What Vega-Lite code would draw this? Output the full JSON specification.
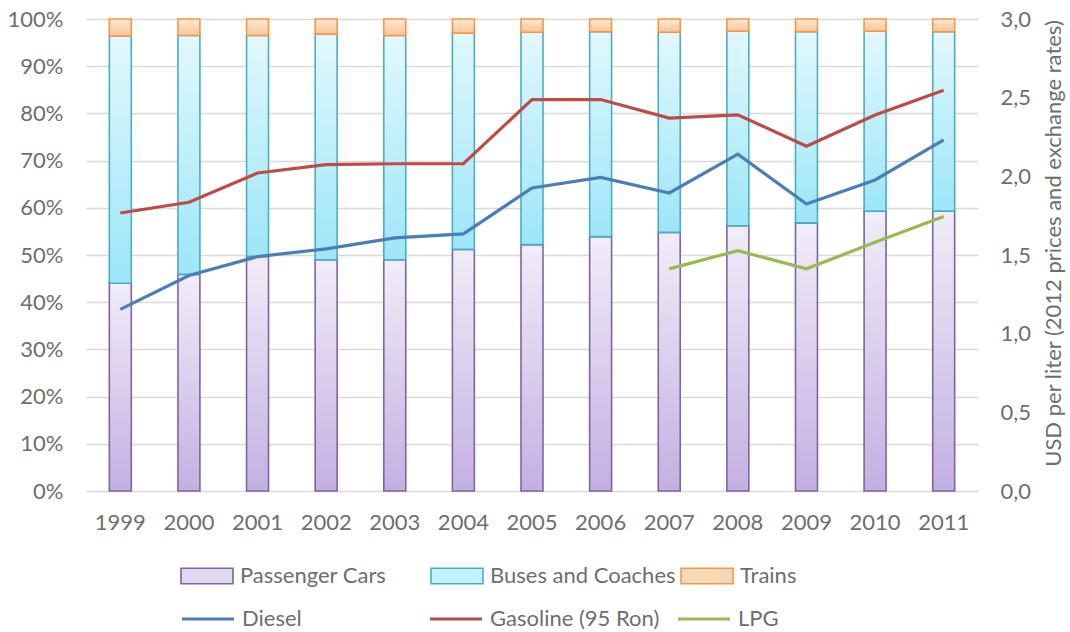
{
  "$schema": "https://vega.github.io/schema/vega-lite/v6.json",
  "autosize": {"type": "none"},
  "width": 892,
  "height": 472,
  "padding": {"left": 86, "top": 19, "right": 92, "bottom": 141},
  "background": "white",
  "config": {
    "font": "Lato",
    "view": {"stroke": null},
    "axis": {"labelColor": "#6e6e6e", "labelFontSize": 22, "titleColor": "#6e6e6e", "titleFontSize": 22, "titleFontWeight": "normal"},
    "legend": {"labelColor": "#6e6e6e", "labelFontSize": 22}
  },
  "datasets": {
    "modes": [
      {"year": "1999", "mode": "Passenger Cars", "share": 0.440},
      {"year": "1999", "mode": "Buses and Coaches", "share": 0.524},
      {"year": "1999", "mode": "Trains", "share": 0.036},
      {"year": "2000", "mode": "Passenger Cars", "share": 0.459},
      {"year": "2000", "mode": "Buses and Coaches", "share": 0.506},
      {"year": "2000", "mode": "Trains", "share": 0.035},
      {"year": "2001", "mode": "Passenger Cars", "share": 0.497},
      {"year": "2001", "mode": "Buses and Coaches", "share": 0.468},
      {"year": "2001", "mode": "Trains", "share": 0.035},
      {"year": "2002", "mode": "Passenger Cars", "share": 0.490},
      {"year": "2002", "mode": "Buses and Coaches", "share": 0.478},
      {"year": "2002", "mode": "Trains", "share": 0.032},
      {"year": "2003", "mode": "Passenger Cars", "share": 0.490},
      {"year": "2003", "mode": "Buses and Coaches", "share": 0.475},
      {"year": "2003", "mode": "Trains", "share": 0.035},
      {"year": "2004", "mode": "Passenger Cars", "share": 0.512},
      {"year": "2004", "mode": "Buses and Coaches", "share": 0.458},
      {"year": "2004", "mode": "Trains", "share": 0.030},
      {"year": "2005", "mode": "Passenger Cars", "share": 0.522},
      {"year": "2005", "mode": "Buses and Coaches", "share": 0.450},
      {"year": "2005", "mode": "Trains", "share": 0.028},
      {"year": "2006", "mode": "Passenger Cars", "share": 0.539},
      {"year": "2006", "mode": "Buses and Coaches", "share": 0.434},
      {"year": "2006", "mode": "Trains", "share": 0.027},
      {"year": "2007", "mode": "Passenger Cars", "share": 0.548},
      {"year": "2007", "mode": "Buses and Coaches", "share": 0.424},
      {"year": "2007", "mode": "Trains", "share": 0.028},
      {"year": "2008", "mode": "Passenger Cars", "share": 0.562},
      {"year": "2008", "mode": "Buses and Coaches", "share": 0.412},
      {"year": "2008", "mode": "Trains", "share": 0.026},
      {"year": "2009", "mode": "Passenger Cars", "share": 0.568},
      {"year": "2009", "mode": "Buses and Coaches", "share": 0.405},
      {"year": "2009", "mode": "Trains", "share": 0.027},
      {"year": "2010", "mode": "Passenger Cars", "share": 0.593},
      {"year": "2010", "mode": "Buses and Coaches", "share": 0.381},
      {"year": "2010", "mode": "Trains", "share": 0.026},
      {"year": "2011", "mode": "Passenger Cars", "share": 0.593},
      {"year": "2011", "mode": "Buses and Coaches", "share": 0.380},
      {"year": "2011", "mode": "Trains", "share": 0.027}
    ],
    "prices": [
      {"year": "1999", "fuel": "Diesel", "price": 1.154},
      {"year": "2000", "fuel": "Diesel", "price": 1.370},
      {"year": "2001", "fuel": "Diesel", "price": 1.490},
      {"year": "2002", "fuel": "Diesel", "price": 1.539},
      {"year": "2003", "fuel": "Diesel", "price": 1.609},
      {"year": "2004", "fuel": "Diesel", "price": 1.634},
      {"year": "2005", "fuel": "Diesel", "price": 1.926},
      {"year": "2006", "fuel": "Diesel", "price": 1.993},
      {"year": "2007", "fuel": "Diesel", "price": 1.894},
      {"year": "2008", "fuel": "Diesel", "price": 2.141},
      {"year": "2009", "fuel": "Diesel", "price": 1.824},
      {"year": "2010", "fuel": "Diesel", "price": 1.977},
      {"year": "2011", "fuel": "Diesel", "price": 2.232},
      {"year": "1999", "fuel": "Gasoline (95 Ron)", "price": 1.767},
      {"year": "2000", "fuel": "Gasoline (95 Ron)", "price": 1.835},
      {"year": "2001", "fuel": "Gasoline (95 Ron)", "price": 2.021},
      {"year": "2002", "fuel": "Gasoline (95 Ron)", "price": 2.074},
      {"year": "2003", "fuel": "Gasoline (95 Ron)", "price": 2.080},
      {"year": "2004", "fuel": "Gasoline (95 Ron)", "price": 2.080},
      {"year": "2005", "fuel": "Gasoline (95 Ron)", "price": 2.488},
      {"year": "2006", "fuel": "Gasoline (95 Ron)", "price": 2.488},
      {"year": "2007", "fuel": "Gasoline (95 Ron)", "price": 2.370},
      {"year": "2008", "fuel": "Gasoline (95 Ron)", "price": 2.391},
      {"year": "2009", "fuel": "Gasoline (95 Ron)", "price": 2.192},
      {"year": "2010", "fuel": "Gasoline (95 Ron)", "price": 2.390},
      {"year": "2011", "fuel": "Gasoline (95 Ron)", "price": 2.547},
      {"year": "2007", "fuel": "LPG", "price": 1.412},
      {"year": "2008", "fuel": "LPG", "price": 1.528},
      {"year": "2009", "fuel": "LPG", "price": 1.412},
      {"year": "2010", "fuel": "LPG", "price": 1.581},
      {"year": "2011", "fuel": "LPG", "price": 1.744}
    ]
  },
  "encoding": {
    "x": {
      "field": "year",
      "type": "ordinal",
      "scale": {"paddingInner": 0.68, "paddingOuter": 0.34},
      "axis": {"title": null, "labelAngle": 0, "domain": false, "ticks": false, "labelPadding": 21}
    }
  },
  "layer": [
    {
      "data": {"name": "modes"},
      "transform": [
        {"calculate": "indexof(['Passenger Cars', 'Buses and Coaches', 'Trains'], datum.mode)", "as": "stackOrder"}
      ],
      "mark": {"type": "bar", "strokeWidth": 1.6},
      "encoding": {
        "y": {
          "field": "share",
          "type": "quantitative",
          "stack": "zero",
          "scale": {"domain": [0, 1]},
          "axis": {
            "title": null,
            "values": [0, 0.1, 0.2, 0.3, 0.4, 0.5, 0.6, 0.7, 0.8, 0.9, 1],
            "format": ".0%",
            "domain": false,
            "ticks": false,
            "labelPadding": 23,
            "grid": true,
            "gridColor": "#d9d9d9",
            "gridWidth": 1.3
          }
        },
        "order": {"field": "stackOrder", "type": "quantitative", "sort": "ascending"},
        "fill": {
          "field": "mode",
          "type": "nominal",
          "scale": {
            "domain": ["Passenger Cars", "Buses and Coaches", "Trains"],
            "range": ["#e2d9f1", "#c6f1fb", "#fcd8bb"]
          },
          "condition": [
            {"test": "datum.mode === 'Passenger Cars'", "value": {"gradient": "linear", "x1": 0, "y1": 0, "x2": 0, "y2": 1, "stops": [{"offset": 0, "color": "#f1edf8"}, {"offset": 1, "color": "#c3b0e2"}]}},
            {"test": "datum.mode === 'Buses and Coaches'", "value": {"gradient": "linear", "x1": 0, "y1": 0, "x2": 0, "y2": 1, "stops": [{"offset": 0, "color": "#e2f8fd"}, {"offset": 1, "color": "#9de6f8"}]}},
            {"test": "datum.mode === 'Trains'", "value": {"gradient": "linear", "x1": 0, "y1": 0, "x2": 0, "y2": 1, "stops": [{"offset": 0, "color": "#fde8d7"}, {"offset": 1, "color": "#fbc597"}]}}
          ],
          "legend": {
            "title": null,
            "orient": "none",
            "legendX": 94,
            "legendY": 530,
            "direction": "horizontal",
            "columns": 3,
            "gridAlign": "all",
            "columnPadding": 1,
            "padding": 0,
            "labelOffset": 6,
            "labelLimit": 400,
            "symbolType": "M-1,-0.3H1V0.3H-1Z",
            "symbolSize": 2704,
            "symbolStrokeWidth": 1.6
          }
        },
        "stroke": {
          "field": "mode",
          "type": "nominal",
          "scale": {
            "domain": ["Passenger Cars", "Buses and Coaches", "Trains"],
            "range": ["#8064a2", "#4bacc6", "#f79646"]
          },
          "legend": {
            "title": null,
            "orient": "none",
            "legendX": 94,
            "legendY": 530,
            "direction": "horizontal",
            "columns": 3,
            "gridAlign": "all",
            "columnPadding": 1,
            "padding": 0,
            "labelOffset": 6,
            "labelLimit": 400,
            "symbolType": "M-1,-0.3H1V0.3H-1Z",
            "symbolSize": 2704,
            "symbolStrokeWidth": 1.6
          }
        }
      }
    },
    {
      "data": {"name": "prices"},
      "mark": {"type": "line", "strokeWidth": 3.2},
      "encoding": {
        "y": {
          "field": "price",
          "type": "quantitative",
          "scale": {"domain": [0, 3]},
          "axis": {
            "orient": "right",
            "title": "USD per liter (2012 prices and exchange rates)",
            "titleAngle": 270,
            "titleBaseline": "top",
            "titlePadding": 13,
            "titleY": 224,
            "values": [0, 0.5, 1, 1.5, 2, 2.5, 3],
            "labelExpr": "replace(format(datum.value, '.1f'), '.', ',')",
            "domain": false,
            "ticks": false,
            "grid": false,
            "labelPadding": 22
          }
        },
        "color": {
          "field": "fuel",
          "type": "nominal",
          "scale": {
            "domain": ["Diesel", "Gasoline (95 Ron)", "LPG"],
            "range": ["#4a7ebb", "#be4b48", "#98b954"]
          },
          "legend": {
            "title": null,
            "orient": "none",
            "legendX": 94,
            "legendY": 572,
            "direction": "horizontal",
            "columns": 3,
            "gridAlign": "all",
            "columnPadding": 11,
            "padding": 0,
            "labelOffset": 6,
            "labelLimit": 400,
            "symbolType": "M-1,0H1",
            "symbolSize": 2704,
            "symbolStrokeWidth": 3.2
          }
        }
      }
    }
  ],
  "resolve": {"scale": {"y": "independent"}}
}
